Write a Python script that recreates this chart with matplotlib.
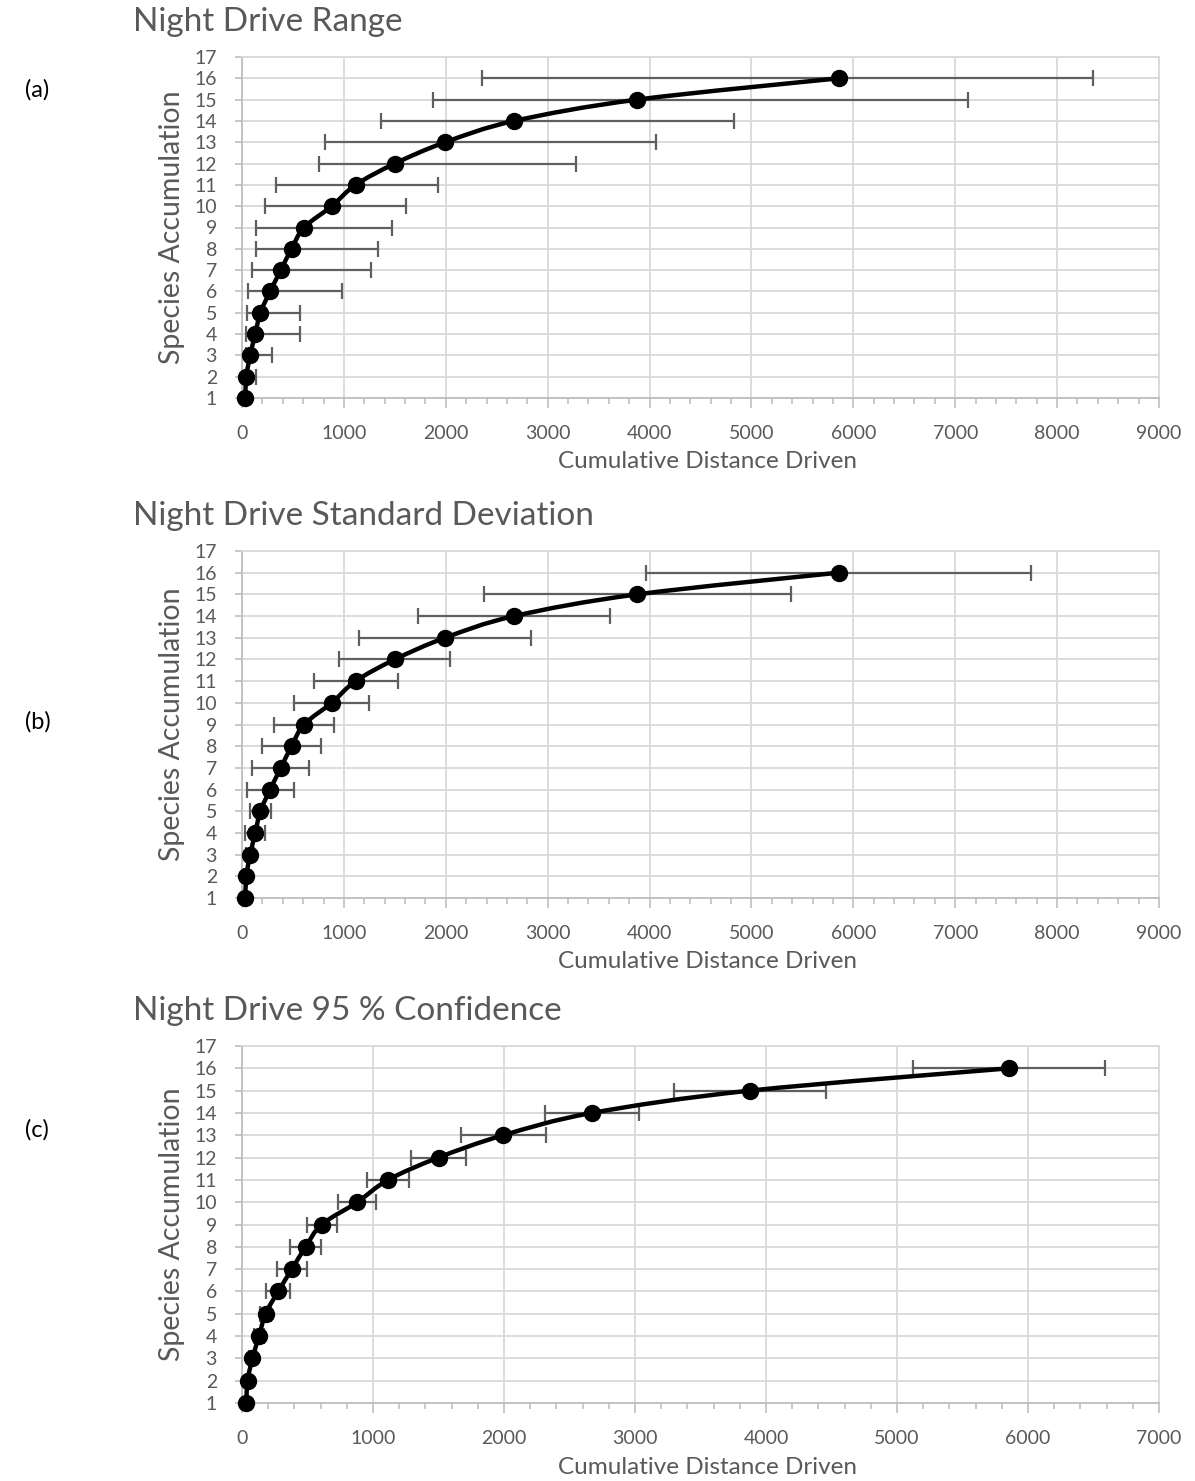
import numpy as np
import matplotlib
matplotlib.use("Agg")
import matplotlib.pyplot as plt
from matplotlib.path import Path
from matplotlib.patches import PathPatch
from matplotlib.ticker import MultipleLocator

plt.rcParams["font.family"] = ["Lato", "DejaVu Sans"]

# --- data --------------------------------------------------------------------
species = [1, 2, 3, 4, 5, 6, 7, 8, 9, 10, 11, 12, 13, 14, 15, 16]
distance = [33, 42, 80, 130, 180, 276, 381, 486, 609, 880, 1115, 1500, 1994, 2672, 3878, 5855]

# (a) min / max of cumulative distance
range_low = [33, 30, 40, 42, 49, 59, 98, 141, 141, 230, 335, 752, 811, 1361, 1874, 2355]
range_high = [33, 141, 294, 565, 565, 980, 1268, 1333, 1471, 1605, 1925, 3281, 4060, 4827, 7122, 8352]

# (b) +/- one standard deviation
std_dev = [0, 20, 40, 100, 103, 230, 280, 285, 295, 368, 413, 545, 845, 940, 1507, 1885]

# (c) +/- 95 % confidence interval
conf95 = [0, 10, 25, 40, 45, 94, 112, 116, 116, 145, 158, 209, 326, 362, 578, 730]

titles = ["Night Drive Range", "Night Drive Standard Deviation", "Night Drive 95 % Confidence"]
panel_tags = ["(a)", "(b)", "(c)"]
xmax = [9000, 9000, 7000]

TXT = "#595959"
GRID = "#d9d9d9"
AXIS = "#bfbfbf"
W, H = 1195, 1481

# axes boxes in pixels: (top, bottom), plus y of the panel tag
boxes = [(57, 398), (551, 898), (1046, 1403)]
tag_y = [90, 722, 1130]
x_left, x_right = 242, 1159


def smooth_line(ax, xs, ys):
    """Excel-like smoothed line: Catmull-Rom bezier built in display space."""
    pts = ax.transData.transform(np.column_stack([xs, ys]))
    n = len(pts)
    verts = [pts[0]]
    codes = [Path.MOVETO]
    for i in range(n - 1):
        p0 = pts[max(i - 1, 0)]
        p1 = pts[i]
        p2 = pts[i + 1]
        p3 = pts[min(i + 2, n - 1)]
        c1 = p1 + (p2 - p0) / 6.0
        c2 = p2 - (p3 - p1) / 6.0
        verts += [c1, c2, p2]
        codes += [Path.CURVE4] * 3
    verts = ax.transData.inverted().transform(np.array(verts))
    patch = PathPatch(Path(verts, codes), facecolor="none", edgecolor="black",
                      lw=3.2, zorder=4, capstyle="round", joinstyle="round")
    ax.add_patch(patch)


fig = plt.figure(figsize=(W / 100, H / 100), dpi=100)

errs = [
    [np.subtract(distance, range_low), np.subtract(range_high, distance)],
    [std_dev, std_dev],
    [conf95, conf95],
]

for k in range(3):
    top, bot = boxes[k]
    hgt = bot - top
    wid = x_right - x_left
    ax = fig.add_axes([x_left / W, 1 - bot / H, wid / W, hgt / H])
    ax.set_xlim(0, xmax[k])
    ax.set_ylim(1, 17)

    ax.xaxis.set_major_locator(MultipleLocator(1000))
    ax.xaxis.set_minor_locator(MultipleLocator(200))
    ax.yaxis.set_major_locator(MultipleLocator(1))
    ax.grid(True, which="major", color=GRID, lw=1.3, zorder=0)
    ax.set_axisbelow(True)

    for side in ["top", "right"]:
        ax.spines[side].set_color(GRID)
        ax.spines[side].set_linewidth(1.3)
    for side in ["left", "bottom"]:
        ax.spines[side].set_color(AXIS)
        ax.spines[side].set_linewidth(1.3)

    ax.tick_params(axis="x", which="major", length=7, width=1.2, color=AXIS,
                   labelsize=14, labelcolor=TXT, pad=12.5)
    ax.tick_params(axis="x", which="minor", length=4, width=1.2, color=AXIS)
    ax.tick_params(axis="y", which="major", length=5, width=1.2, color=AXIS,
                   labelsize=14, labelcolor=TXT, pad=13)

    ax.errorbar(distance, species, xerr=errs[k], fmt="none", ecolor="#5f5f5f",
                elinewidth=1.6, capsize=5.5, capthick=1.6, zorder=3)
    smooth_line(ax, distance, species)
    ax.plot(distance, species, "o", color="black", ms=11.5, zorder=5, clip_on=False)

    ax.set_xlabel("Cumulative Distance Driven", fontsize=17.5, color=TXT, va="center")
    ax.xaxis.set_label_coords((707 - x_left) / wid, -(64 if k < 2 else 65) / hgt)
    ax.set_ylabel("Species Accumulation", fontsize=20.5, color=TXT, va="center")
    ax.yaxis.set_label_coords((172 - x_left) / wid, 0.5)

    fig.text(133 / W, 1 - (top - 35) / H, titles[k], fontsize=24, color=TXT,
             ha="left", va="center")
    fig.text(25 / W, 1 - tag_y[k] / H, panel_tags[k], fontsize=17, color="black",
             ha="left", va="center")

fig.savefig("out.png", dpi=100)
